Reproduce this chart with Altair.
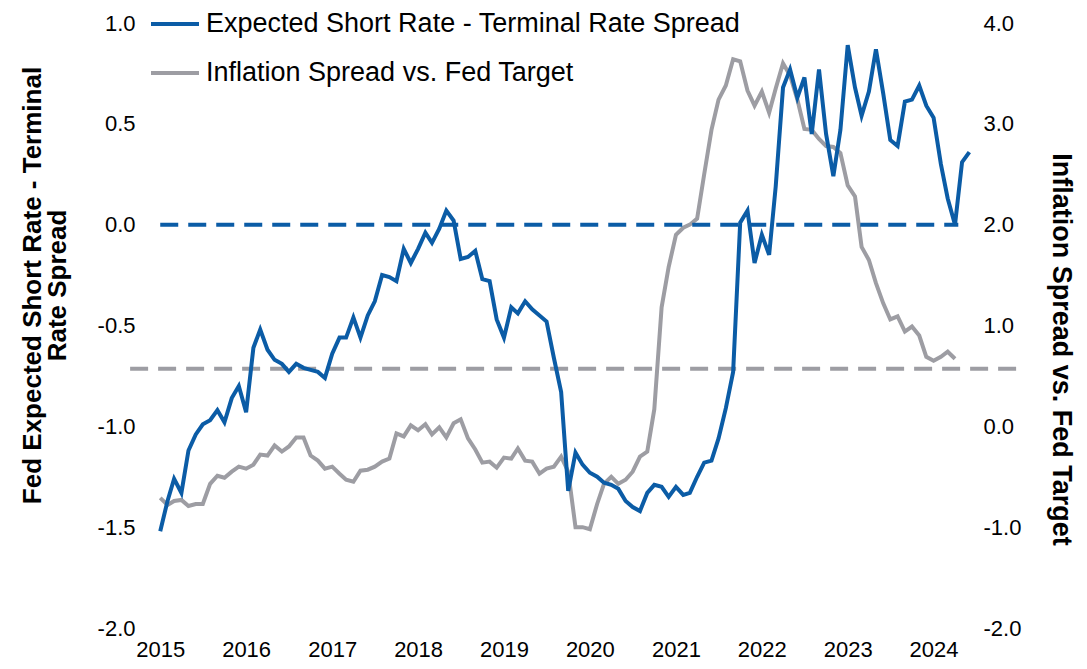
import altair as alt
import pandas as pd

blue_name = "Expected Short Rate - Terminal Rate Spread"
gray_name = "Inflation Spread vs. Fed Target"
blue_color = "#0b5ca6"
gray_color = "#9d9da3"

# Monthly, starting Jan 2015 (left axis)
spread = [
    -1.52, -1.37, -1.26, -1.33, -1.12, -1.04, -0.99, -0.97, -0.92, -0.98, -0.86, -0.80,
    -0.93, -0.61, -0.52, -0.62, -0.67, -0.69, -0.73, -0.69, -0.71, -0.72, -0.73, -0.76,
    -0.64, -0.56, -0.56, -0.46, -0.56, -0.45, -0.38, -0.25, -0.26, -0.28, -0.12, -0.19,
    -0.12, -0.04, -0.09, -0.02, 0.07, 0.02, -0.17, -0.16, -0.13, -0.27, -0.28, -0.47,
    -0.56, -0.41, -0.44, -0.38, -0.42, -0.45, -0.48, -0.66, -0.83, -1.32, -1.13, -1.19,
    -1.23, -1.25, -1.28, -1.29, -1.31, -1.37, -1.40, -1.42, -1.33, -1.29, -1.30, -1.35,
    -1.30, -1.34, -1.33, -1.25, -1.18, -1.17, -1.06, -0.91, -0.73, 0.01, 0.07, -0.19,
    -0.05, -0.15, 0.19, 0.68, 0.77, 0.63, 0.73, 0.45, 0.77, 0.45, 0.24, 0.47,
    0.89, 0.68, 0.54, 0.66, 0.87, 0.65, 0.42, 0.39, 0.61, 0.62, 0.69, 0.59,
    0.53, 0.30, 0.13, 0.00, 0.31, 0.36,
]

# Monthly, starting Jan 2015 (right axis)
inflation = [
    -0.71, -0.78, -0.74, -0.73, -0.79, -0.77, -0.77, -0.57, -0.49, -0.51, -0.45, -0.40,
    -0.42, -0.38, -0.28, -0.29, -0.19, -0.25, -0.20, -0.11, -0.11, -0.29, -0.34, -0.42,
    -0.40, -0.47, -0.53, -0.55, -0.44, -0.43, -0.40, -0.35, -0.32, -0.07, -0.10, 0.01,
    -0.04, 0.02, -0.08, -0.01, -0.11, 0.03, 0.07, -0.12, -0.23, -0.36, -0.35, -0.41,
    -0.31, -0.32, -0.22, -0.34, -0.35, -0.47, -0.42, -0.40, -0.30, -0.45, -1.00, -1.00,
    -1.02, -0.77, -0.57, -0.50, -0.57, -0.53, -0.45, -0.30, -0.25, 0.17, 1.18, 1.58,
    1.90, 1.97, 2.00, 2.06, 2.50, 2.94, 3.24, 3.38, 3.64, 3.62, 3.33, 3.18,
    3.32, 3.11, 3.35, 3.60, 3.48, 3.24, 2.95, 2.94, 2.85, 2.78, 2.77, 2.71,
    2.39, 2.28, 1.78, 1.65, 1.42, 1.22, 1.06, 1.09, 0.94, 0.99, 0.90, 0.69,
    0.65, 0.69, 0.74, 0.67,
]

years = list(range(2015, 2025))
left_ticks = [-2.0, -1.5, -1.0, -0.5, 0.0, 0.5, 1.0]
right_ticks = [-2.0, -1.0, 0.0, 1.0, 2.0, 3.0, 4.0]

blue_ref = 0.0
gray_ref = 0.57
blue_ref_span = ["2015-01-01", "2024-04-15"]
gray_ref_span = ["2014-08-26", "2025-01-01"]

start = "2015-01-01"
df_b = pd.DataFrame({
    "date": pd.date_range(start, periods=len(spread), freq="MS").strftime("%Y-%m-%d"),
    "value": spread,
    "series": blue_name,
})
df_g = pd.DataFrame({
    "date": pd.date_range(start, periods=len(inflation), freq="MS").strftime("%Y-%m-%d"),
    "value": inflation,
    "series": gray_name,
})
df_bref = pd.DataFrame({"x": [blue_ref_span[0]], "x2": [blue_ref_span[1]], "y": [blue_ref]})
df_gref = pd.DataFrame({"x": [gray_ref_span[0]], "x2": [gray_ref_span[1]], "y": [gray_ref]})

FONT = "Liberation Sans"

x_scale = alt.Scale(domain=[alt.DateTime(year=2014, month=11, date=10),
                            alt.DateTime(year=2024, month=6, date=25)])
x_axis = alt.Axis(
    values=[alt.DateTime(year=y, month=1, date=1) for y in years],
    format="%Y", title=None, domain=False, ticks=False, tickSize=0, grid=False,
    labelFontSize=22, labelFont=FONT, labelColor="#000000", labelPadding=11,
)
left_scale = alt.Scale(domain=[-2, 1], nice=False, zero=False)
right_scale = alt.Scale(domain=[-2, 4], nice=False, zero=False)

color = alt.Color(
    "series:N",
    scale=alt.Scale(domain=[blue_name, gray_name], range=[blue_color, gray_color]),
    legend=alt.Legend(
        orient="none", legendX=1, legendY=-25, title=None, symbolType="stroke",
        symbolSize=2304, symbolStrokeWidth=4, labelFontSize=27, labelFont=FONT,
        labelColor="#000000", rowPadding=10, labelOffset=5, padding=0, labelLimit=0,
    ),
)

label_expr = "(datum.value < 0 ? '-' : '') + format(abs(datum.value), '.1f')"

left_axis = alt.Axis(
    orient="left", values=left_ticks, labelExpr=label_expr, domain=False, ticks=False,
    tickSize=0, grid=False, labelFontSize=22, labelFont=FONT, labelColor="#000000",
    labelPadding=13,
    title=["Fed Expected Short Rate - Terminal", "Rate Spread"],
    titleFont=FONT, titleFontSize=26, titleFontWeight="bold", titleColor="#000000",
    titleLineHeight=25, titleAngle=270, titleX=-116, titleY=262,
    titleBaseline="middle", titleAlign="center",
)
right_axis = alt.Axis(
    orient="right", values=right_ticks, labelExpr=label_expr, domain=False, ticks=False,
    tickSize=0, grid=False, labelFontSize=22, labelFont=FONT, labelColor="#000000",
    labelPadding=8,
    title=gray_name,
    titleFont=FONT, titleFontSize=27, titleFontWeight="bold", titleColor="#000000",
    titleAngle=90, titleX=85, titleY=326, titleBaseline="middle", titleAlign="center",
)

blue_dash = alt.Chart(df_bref).mark_rule(
    color=blue_color, strokeWidth=4, strokeDash=[18, 10]
).encode(
    x=alt.X("x:T", scale=x_scale, axis=x_axis),
    x2="x2:T",
    y=alt.Y("y:Q", scale=left_scale, axis=left_axis),
)
blue_line = alt.Chart(df_b).mark_line(strokeWidth=4).encode(
    x=alt.X("date:T", scale=x_scale, axis=x_axis),
    y=alt.Y("value:Q", scale=left_scale, axis=left_axis),
    color=color,
)
gray_dash = alt.Chart(df_gref).mark_rule(
    color=gray_color, strokeWidth=4, strokeDash=[18, 10]
).encode(
    x=alt.X("x:T", scale=x_scale, axis=x_axis),
    x2="x2:T",
    y=alt.Y("y:Q", scale=right_scale, axis=right_axis),
)
gray_line = alt.Chart(df_g).mark_line(strokeWidth=4).encode(
    x=alt.X("date:T", scale=x_scale, axis=x_axis),
    y=alt.Y("value:Q", scale=right_scale, axis=right_axis),
    color=color,
)

chart = alt.layer(
    alt.layer(gray_dash, gray_line),
    alt.layer(blue_dash, blue_line),
).resolve_scale(y="independent").properties(
    width=827, height=605,
    padding={"left": 140, "top": 15, "right": 104, "bottom": 33},
    autosize=alt.AutoSizeParams(type="none"),
    background="#ffffff",
).configure_view(stroke=None)

chart.save("out.html", embed_options={"renderer": "svg", "actions": False})
